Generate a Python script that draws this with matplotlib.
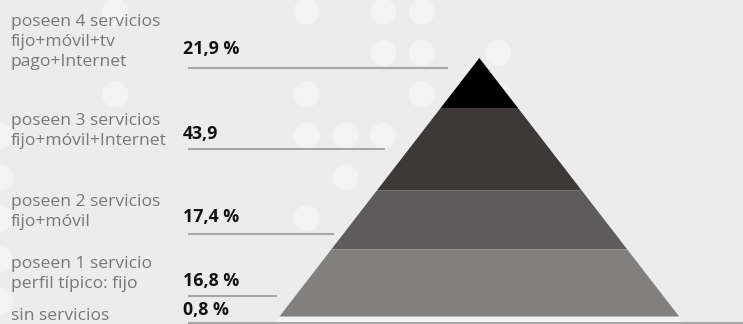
import matplotlib
matplotlib.use('Agg')
import matplotlib.pyplot as plt
from matplotlib.patches import Circle, Polygon

# data: categories (top of pyramid first)
labels = [
    ['poseen 4 servicios', 'fijo+móvil+tv', 'pago+Internet'],
    ['poseen 3 servicios', 'fijo+móvil+Internet'],
    ['poseen 2 servicios', 'fijo+móvil'],
    ['poseen 1 servicio', 'perfil típico: fijo'],
    ['sin servicios'],
]
value_text = ['21,9 %', '43,9', '17,4 %', '16,8 %', '0,8 %']
band_colors = ['#000000', '#3d3938', '#5d5b5b', '#82807e', '#f1f2f1']

# layout (pixel coordinates, y down)
W, H = 743, 324
bg = '#ebeceb'
band_edges = [58, 108, 190.3, 249.3, 316.7, 322]
apex_x = 479.3
slope = 0.773
label_baselines = [[25.7, 46, 66.3], [125, 145], [206, 226], [268.3, 288.3], [320.5]]
value_baselines = [54, 139.3, 222.3, 285.7, 315]
leader_y = [68.3, 149, 234, 296, 323]
leader_end = [448.3, 385, 334.3, 276.7, W]

# decorative dot grid (column, row)
dots = [(3, 0), (3, 2), (0, 3), (0, 4), (0, 5), (0, 6), (0, 7), (8, 0), (10, 0), (11, 0),
        (10, 1), (11, 1), (13, 1), (8, 2), (11, 2), (13, 2), (8, 3), (9, 3), (10, 3),
        (9, 4), (8, 5)]

fig = plt.figure(figsize=(W / 100, H / 100), dpi=100)
fig.patch.set_facecolor(bg)
ax = fig.add_axes([0, 0, 1, 1])
ax.set_xlim(0, W)
ax.set_ylim(H, 0)
ax.axis('off')

for c, r in dots:
    ax.add_patch(Circle((0.3 + 38.3 * c, 11.7 + 41.3 * r), 13, color='#f2f3f2', lw=0, zorder=1))

# pyramid bands
for i, col in enumerate(band_colors):
    y0, y1 = band_edges[i], band_edges[i + 1]
    w0, w1 = slope * (y0 - band_edges[0]), slope * (y1 - band_edges[0])
    pts = [(apex_x - w0, y0), (apex_x + w0, y0), (apex_x + w1, y1), (apex_x - w1, y1)]
    ax.add_patch(Polygon(pts, closed=True, color=col, lw=0, zorder=3))

# leader lines
for y, x1 in zip(leader_y, leader_end):
    ax.plot([188, x1], [y, y], color='#a5a6a5', lw=1.5, zorder=2, solid_capstyle='butt')

# text
for lines, bases in zip(labels, label_baselines):
    for t, b in zip(lines, bases):
        ax.text(11, b, t, fontsize=12.6, color='#787878', va='baseline', ha='left',
                family='Open Sans', zorder=4)

for t, b in zip(value_text, value_baselines):
    ax.text(182.7, b, t, fontsize=12.8, color='#111111', va='baseline', ha='left',
            family='Open Sans', fontweight='bold', zorder=4)

fig.savefig('out.png', dpi=100, facecolor=bg)
